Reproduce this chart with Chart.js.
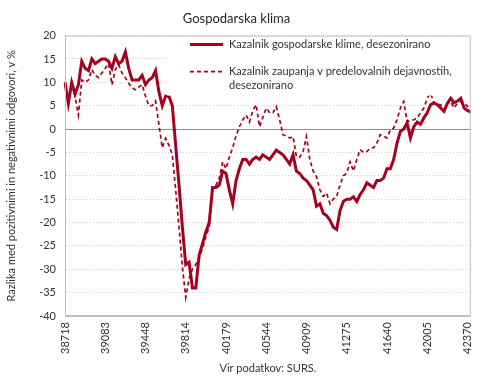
<!DOCTYPE html>
<html>
<head>
<meta charset="utf-8">
<script src="https://cdn.jsdelivr.net/npm/chart.js@4.4.1/dist/chart.umd.min.js"></script>
<style>
  html, body { margin: 0; padding: 0; background: #fff; }
  #okvir { width: 490px; height: 380px; }
</style>
</head>
<body>
<div id="okvir"><canvas id="klimaChart" width="490" height="380"></canvas></div>
<script>
// mesecni podatki, januar 2006 - februar 2016
const zacetnoLeto = 2006;
const steviloMesecev = 122;

// Kazalnik gospodarske klime, desezonirano
const gospodarskaKlima = [
  10, 5.5, 10, 7.5, 9.5, 14.5, 13, 12.5, 15, 14,
  14.5, 15, 15, 14.5, 13, 15.5, 14, 14.5, 16.5, 13,
  10.5, 10.5, 10.5, 11.5, 9.5, 10.5, 11, 12.5, 8, 5,
  7, 7, 5, -3.5, -12, -21, -29, -28.5, -34, -34,
  -27, -24.5, -22, -20, -12.5, -12.5, -12, -9, -9.5, -13,
  -16, -11, -8.5, -6.5, -6.5, -7.5, -6.5, -6, -6.5, -5.5,
  -6, -6.5, -5.5, -4.5, -5, -5.5, -6.5, -7.5, -5.5, -9,
  -9.5, -10.5, -11, -12, -13, -16.5, -16, -18, -18.5, -19.5,
  -21, -21.5, -17.5, -15.5, -15, -15, -14.5, -15.5, -14, -13,
  -11.5, -12, -12.5, -11, -11, -10.5, -8.5, -8.5, -6.5, -3,
  -0.5, 0, 1.3, -1.9, 0.5, 1.5, 1, 2.4, 3.5, 5.2,
  5.6, 5.2, 4.5, 3.8, 5.5, 6.6, 5.6, 6, 6.6, 4.5,
  4, 3.6
];

// Kazalnik zaupanja v predelovalnih dejavnostih, desezonirano
const zaupanjePredelovalne = [
  9.5, 6, 9.5, 7, 3, 10.5, 10, 10.5, 12.7, 11.5,
  11, 12, 13, 14, 9.5, 12.7, 13.8, 12, 11, 9.8,
  8.8, 8.4, 9, 9.5, 7, 5, 5, 6, 1, -4,
  -2, -3.5, -5.5, -13, -21, -29.5, -36, -32, -30, -29,
  -27.5, -25.5, -23, -21, -13, -12, -10.5, -7, -8.5, -6,
  -4, -1.5, 0.5, 2, 3, 1.5, 4, 5.2, 0.5, 2.5,
  4.5, 3.5, 3.5, 4.8, 2, -1.2, -1.5, -1.9, -1.6, -5.9,
  -6, -4.8, -1.6, -6.5, -9, -10.2, -13, -14.4, -13.7, -16,
  -15, -14.4, -12, -10, -9.5, -7, -9, -6.5, -4.4, -5,
  -4.8, -4.1, -4, -3, -1.2, -1.5, -1.9, -0.2, 0.2, 2,
  4.5, 5.9, 1.6, 1.8, 2, 2.4, 3.5, 4.5, 6.6, 7.7,
  5.6, 5.4, 5.2, 4.1, 5.5, 5.9, 4.5, 5.5, 5.9, 5.6,
  4.8, 5
];

const legendaBesedilo = [
  ['Kazalnik gospodarske klime, desezonirano'],
  ['Kazalnik zaupanja v predelovalnih dejavnostih,', 'desezonirano']
];

// Excelove serijske stevilke datumov (1. v mesecu)
const meseci = [];
for (let i = 0; i < steviloMesecev; i++) {
  const d = Date.UTC(zacetnoLeto + Math.floor(i / 12), i % 12, 1);
  meseci.push(String(Math.round((d - Date.UTC(1899, 11, 30)) / 86400000)));
}

const pisava = 'Lato, "Open Sans", sans-serif';
const rdeca = '#a50021';

const legendaPlugin = {
  id: 'legenda',
  afterDatasetsDraw(chart) {
    const { ctx, chartArea } = chart;
    const x0 = chartArea.left + 102;
    ctx.save();
    ctx.fillStyle = '#fff';
    ctx.fillRect(x0, chartArea.top + 1, chartArea.right - x0 - 1, 59);
    ctx.font = '11px ' + pisava;
    ctx.fillStyle = '#333';
    ctx.textBaseline = 'middle';
    const vrste = [chartArea.top + 9, chartArea.top + 36];
    chart.data.datasets.forEach((ds, k) => {
      const y = vrste[k];
      ctx.strokeStyle = ds.borderColor;
      ctx.lineWidth = ds.borderWidth;
      ctx.setLineDash(ds.borderDash || []);
      ctx.beginPath();
      ctx.moveTo(x0 + 23, y);
      ctx.lineTo(x0 + 56, y);
      ctx.stroke();
      legendaBesedilo[k].forEach((t, j) => ctx.fillText(t, x0 + 62, y + j * 14));
    });
    ctx.restore();
  },
  afterDraw(chart) {
    const { ctx, chartArea } = chart;
    ctx.save();
    ctx.strokeStyle = '#bfbfbf';
    ctx.lineWidth = 1;
    ctx.strokeRect(chartArea.left + 0.5, chartArea.top + 0.5,
      chartArea.right - chartArea.left - 1, chartArea.bottom - chartArea.top - 1);
    ctx.restore();
  }
};

new Chart(document.getElementById('klimaChart'), {
  type: 'line',
  data: {
    labels: meseci,
    datasets: [{
      label: legendaBesedilo[0].join(' '),
      data: gospodarskaKlima,
      borderColor: rdeca,
      borderWidth: 3,
      pointRadius: 0,
      tension: 0
    }, {
      label: legendaBesedilo[1].join(' '),
      data: zaupanjePredelovalne,
      borderColor: rdeca,
      borderWidth: 1.7,
      borderDash: [4, 3],
      pointRadius: 0,
      tension: 0
    }]
  },
  options: {
    responsive: false,
    animation: false,
    layout: { padding: { left: 0, right: 17, top: 0, bottom: 0 } },
    plugins: {
      legend: { display: false },
      tooltip: { enabled: false },
      title: {
        display: true,
        text: 'Gospodarska klima',
        color: '#262626',
        font: { family: pisava, size: 13, weight: 'normal' },
        padding: { top: 11, bottom: 9 }
      }
    },
    scales: {
      x: {
        offset: false,
        grid: { display: false, drawTicks: false },
        border: { display: true, color: '#bfbfbf' },
        ticks: {
          autoSkip: false,
          maxRotation: 90,
          minRotation: 90,
          padding: 6,
          color: '#333',
          font: { family: pisava, size: 11 },
          callback: function (v, i) { return i % 12 === 0 ? this.getLabelForValue(v) : ''; }
        },
        title: {
          display: true,
          text: 'Vir podatkov: SURS.',
          color: '#333',
          font: { family: pisava, size: 11 },
          padding: { top: 0, bottom: 5 }
        },
        afterFit: s => { s.height = 64; }
      },
      y: {
        min: -40,
        max: 20,
        ticks: {
          stepSize: 5,
          padding: 9,
          color: '#333',
          font: { family: pisava, size: 11 }
        },
        grid: {
          drawTicks: false,
          color: c => c.tick.value === 0 ? '#8c8c8c' : '#d0d0d0',
          lineWidth: 1
        },
        border: {
          display: true,
          color: '#bfbfbf',
          dash: c => c.tick && c.tick.value === 0 ? [] : [1, 2]
        },
        title: {
          display: true,
          text: 'Razlika med pozitivnimi in negativnimi odgovori, v %',
          color: '#333',
          font: { family: pisava, size: 11 },
          padding: { top: 5, bottom: 0 }
        },
        afterFit: s => { s.width = 65; }
      }
    }
  },
  plugins: [legendaPlugin]
});
</script>
</body>
</html>
